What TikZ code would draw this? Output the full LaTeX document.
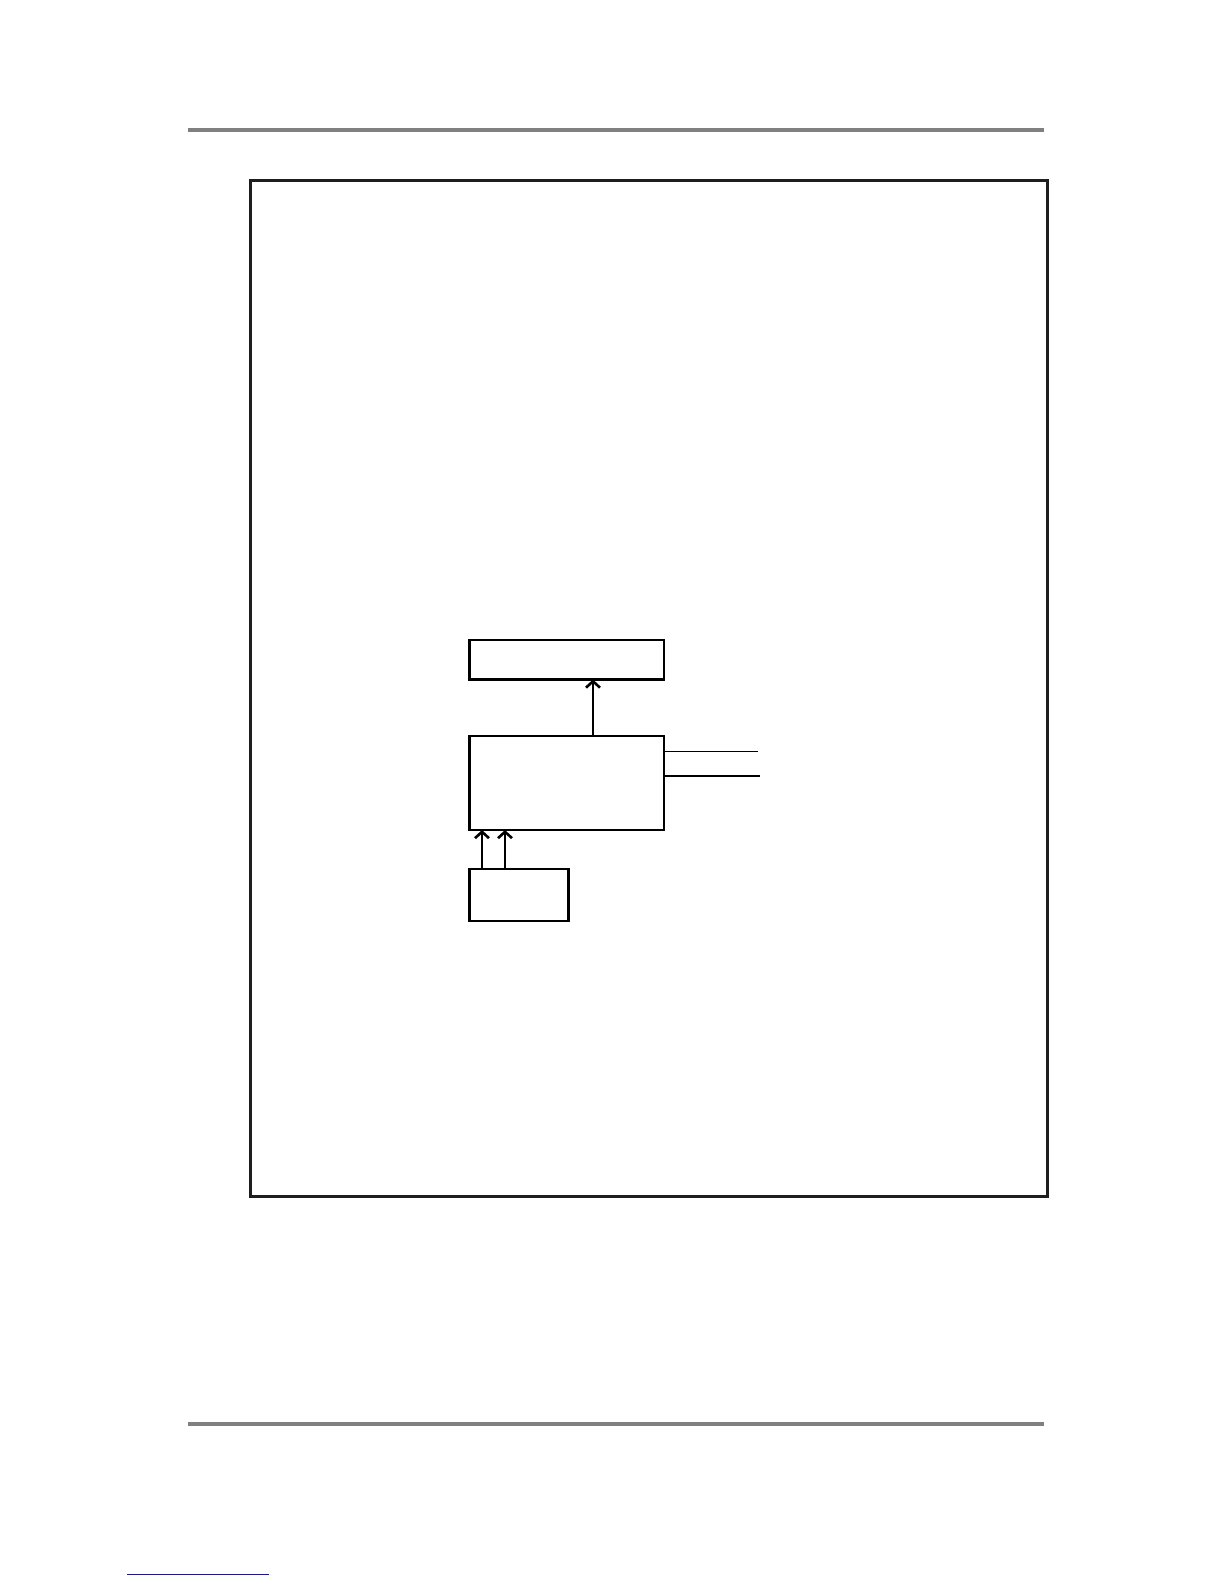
\documentclass[tikz,border=0pt]{standalone}
\usetikzlibrary{arrows.meta,calc}
\definecolor{rulegray}{RGB}{128,128,128}
\definecolor{framecol}{RGB}{30,30,30}
\definecolor{linkblue}{RGB}{25,25,140}
\tikzset{
  blockbox/.style={draw=black, line width=1.2pt, inner sep=0pt, outer sep=0pt, fill=white},
  uparrow/.style={draw=black, line width=1.1pt, -{Straight Barb[length=3.2pt,width=7pt,line width=1.3pt]}},
  sigthin/.style={draw=black, line width=0.5pt},
  sigthick/.style={draw=black, line width=1.1pt},
  pagerule/.style={draw=rulegray, line width=2pt},
  pageframe/.style={draw=framecol, line width=1.5pt}
}
\begin{document}
\begin{tikzpicture}[x=0.5pt,y=-0.5pt]
\useasboundingbox (0,0) rectangle (1224,1584);
% page rules
\draw[pagerule] (188,130) -- (1044,130);
\draw[pagerule] (188,1424) -- (1044,1424);
\draw[draw=linkblue, line width=0.8pt] (127,1574.5) -- (269,1574.5);
% frame
\draw[pageframe] (250,180.5) rectangle (1047.5,1196.5);
% blocks
\node[blockbox, minimum width=97.25pt, minimum height=19.75pt] (top) at (566.75,659.75) {};
\node[blockbox, minimum width=97.25pt, minimum height=47pt] (mid) at (566.75,783) {};
\node[blockbox, minimum width=49.5pt, minimum height=26pt] (small) at (519,895) {};
% arrows
\draw[uparrow] ([xshift=61.75pt]mid.north west) -- ([xshift=61.75pt]top.south west);
\draw[uparrow] ([xshift=6.25pt]small.north west) -- ([xshift=6.25pt]mid.south west);
\draw[uparrow] ([xshift=17.75pt]small.north west) -- ([xshift=17.75pt]mid.south west);
% outgoing lines
\coordinate (e1) at (758,751.5);
\coordinate (e2) at (760,776);
\draw[sigthin] (mid.east |- e1) -- (e1);
\draw[sigthick] (mid.east |- e2) -- (e2);
\end{tikzpicture}
\end{document}
